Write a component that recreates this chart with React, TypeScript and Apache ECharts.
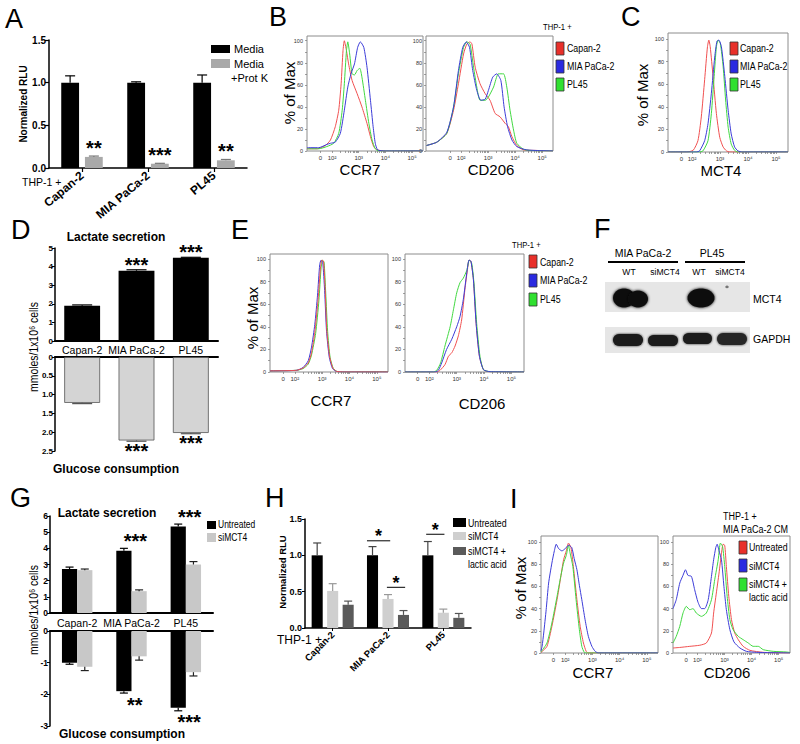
import React, { useEffect, useRef } from "react";
import * as echarts from "echarts";

const FONT = "'Liberation Sans', Arial, Helvetica, sans-serif";
const NARROW = "'Liberation Sans Narrow', 'Arial Narrow', 'Liberation Sans', sans-serif";

const RED = "#f05050";
const BLUE = "#3c3cd8";
const GREEN = "#40d840";
const LEG_RED = "#e8302a";
const LEG_BLUE = "#2a2ae0";
const LEG_GREEN = "#30e030";

type Pt = [number, number];

// ---------------- Panel A ----------------
const catsA = ["Capan-2", "MIA PaCa-2", "PL45"];
const mediaA = [1.0, 1.0, 1.0];
const mediaErrA = [1.08, 1.01, 1.09];
const protKA = [0.13, 0.05, 0.09];
const protKErrA = [0.14, 0.055, 0.1];
const protKStarsA = ["**", "***", "**"];

// ---------------- Panel D ----------------
const catsD = ["Capan-2", "MIA PaCa-2", "PL45"];
const lactateD = [1.9, 3.78, 4.47];
const lactateErrD = [1.94, 3.83, 4.5];
const lactateStarsD = ["", "***", "***"];
const glucoseD = [1.22, 2.22, 2.02];
const glucoseErrD = [1.24, 2.24, 2.04];
const glucoseStarsD = ["", "***", "***"];

// ---------------- Panel G ----------------
const catsG = ["Capan-2", "MIA PaCa-2", "PL45"];
const lactUntrG = [2.72, 3.85, 5.35];
const lactUntrErrG = [2.84, 4.0, 5.5];
const lactSiG = [2.65, 1.35, 3.0];
const lactSiErrG = [2.72, 1.43, 3.18];
const lactStarsG = ["", "***", "***"];
const glucUntrG = [-1.0, -1.9, -2.42];
const glucUntrErrG = [-1.05, -1.96, -2.52];
const glucSiG = [-1.13, -0.8, -1.3];
const glucSiErrG = [-1.25, -0.92, -1.42];
const glucStarsG = ["", "**", "***"];

// ---------------- Panel H ----------------
const catsH = ["Capan-2", "MIA PaCa-2", "PL45"];
const untrH = [1.0, 1.0, 1.0];
const untrErrH = [1.17, 1.12, 1.19];
const siH = [0.51, 0.4, 0.21];
const siErrH = [0.61, 0.46, 0.26];
const siLacH = [0.32, 0.18, 0.14];
const siLacErrH = [0.37, 0.24, 0.2];
const sigCatH = [1, 1, 2];
const sigLevelH = [1.2, 0.56, 1.29];
const sigStarsH = ["*", "*", "*"];

// ---------------- Flow axes ----------------
const flowDecades = [2, 3, 4, 5];
const flowDecadeLabels = ["10²", "10³", "10⁴", "10⁵"];
const flowYTicks = [0, 20, 40, 60, 80, 100];
const flowYMinorTicks = [0, 10, 20, 30, 40, 50, 60, 70, 80, 90, 100];

// B: CCR7
const bCcr7Capan: Pt[] = [[1.06,2],[1.44,2],[1.75,5],[1.94,10],[2.12,22],[2.25,37],[2.34,61],[2.41,91],[2.46,100],[2.54,91],[2.62,79],[2.75,64],[2.94,52],[3.12,40],[3.31,25],[3.44,13],[3.56,4],[3.69,1],[4.0,0],[5.41,0]];
const bCcr7Mia: Pt[] = [[1.06,3],[1.5,3],[1.81,6],[1.94,7],[2.12,8],[2.31,16],[2.46,37],[2.59,58],[2.71,70],[2.84,79],[2.96,94],[3.06,99],[3.19,94],[3.31,76],[3.44,46],[3.54,22],[3.62,7],[3.71,1],[4.0,0],[5.41,0]];
const bCcr7Pl45: Pt[] = [[1.06,2],[1.5,2],[1.8,4],[2.06,7],[2.25,16],[2.38,37],[2.46,61],[2.54,91],[2.59,99],[2.66,88],[2.75,70],[2.84,69],[2.94,73],[3.04,75],[3.12,67],[3.25,46],[3.38,25],[3.5,10],[3.62,2],[3.75,0],[5.41,0]];
// B: CD206
const bCd206Capan: Pt[] = [[0.72,5],[1.1,8],[1.47,16],[1.72,37],[1.9,61],[2.09,88],[2.21,97],[2.33,99],[2.4,97],[2.52,76],[2.7,61],[2.89,52],[3.07,46],[3.26,34],[3.44,31],[3.63,25],[3.75,22],[3.88,13],[4.06,5],[4.31,1],[4.8,0.5],[5.4,0]];
const bCd206Mia: Pt[] = [[0.72,5],[1.1,8],[1.47,17],[1.72,40],[1.9,73],[2.06,94],[2.19,99],[2.31,94],[2.43,73],[2.58,55],[2.73,46],[2.89,47],[3.01,55],[3.17,67],[3.32,70],[3.47,64],[3.59,40],[3.72,22],[3.88,10],[4.06,4],[4.43,1],[5.4,0]];
const bCd206Pl45: Pt[] = [[0.72,5],[1.1,8],[1.47,16],[1.72,40],[1.9,70],[2.09,94],[2.21,99],[2.33,97],[2.46,76],[2.58,58],[2.7,46],[2.89,46],[3.01,49],[3.2,58],[3.38,70],[3.57,70],[3.69,58],[3.81,37],[3.94,19],[4.06,7],[4.31,1.5],[4.56,0.5],[5.4,0]];
// C: MCT4
const cMct4Capan: Pt[] = [[1.14,0],[1.8,0],[2.04,1.5],[2.21,10],[2.33,31],[2.45,64],[2.55,93],[2.6,99],[2.65,93],[2.75,67],[2.87,34],[2.99,13],[3.11,4.5],[3.23,1],[3.35,0],[5.43,0]];
const cMct4Mia: Pt[] = [[1.14,0],[2.15,0],[2.27,1],[2.45,10],[2.57,25],[2.69,52],[2.81,84],[2.89,98],[2.96,99],[3.05,93],[3.17,67],[3.29,37],[3.4,16],[3.52,4.5],[3.64,1],[3.8,0],[5.43,0]];
const cMct4Pl45: Pt[] = [[1.14,0],[2.25,0],[2.39,1],[2.57,10],[2.69,34],[2.79,67],[2.87,93],[2.93,99],[3.01,96],[3.11,76],[3.2,46],[3.29,22],[3.4,7],[3.52,1.5],[3.64,0],[5.43,0]];
// E: CCR7
const eCcr7Capan: Pt[] = [[1.09,1],[2.06,1.5],[2.3,3.5],[2.49,8],[2.61,17],[2.73,35],[2.85,64],[2.94,93],[2.99,99],[3.05,98],[3.11,73],[3.17,37],[3.27,14],[3.39,3.5],[3.52,0.6],[3.8,0],[5.41,0]];
const eCcr7Mia: Pt[] = [[1.09,1],[2.06,1.5],[2.3,4],[2.49,10],[2.61,22],[2.73,42],[2.83,68],[2.91,95],[2.96,99],[3.02,97],[3.09,72],[3.16,36],[3.26,13],[3.38,3],[3.52,0.5],[3.8,0],[5.41,0]];
const eCcr7Pl45: Pt[] = [[1.09,1],[2.06,1.5],[2.3,3],[2.49,7],[2.61,15],[2.76,34],[2.88,63],[2.96,92],[3.01,99],[3.07,97],[3.13,70],[3.2,36],[3.29,13],[3.41,3],[3.55,0.5],[3.8,0],[5.41,0.3]];
// E: CD206
const eCd206Capan: Pt[] = [[1.11,0],[2.27,0],[2.39,1.5],[2.57,6.5],[2.7,14],[2.82,17],[2.94,23],[3.06,32],[3.18,46],[3.3,73],[3.39,90],[3.45,99],[3.52,98],[3.61,82],[3.71,43],[3.83,14],[3.98,2],[4.16,0.3],[5.46,0]];
const eCd206Mia: Pt[] = [[1.11,0],[2.21,0],[2.33,1.5],[2.45,8],[2.63,20],[2.82,29],[3.0,40],[3.12,49],[3.24,64],[3.37,88],[3.45,99],[3.52,98],[3.61,82],[3.71,43],[3.83,14],[3.98,2],[4.22,0.3],[5.46,0]];
const eCd206Pl45: Pt[] = [[1.11,0],[2.15,0],[2.27,1.5],[2.41,8],[2.57,23],[2.76,40],[2.88,55],[3.0,70],[3.12,79],[3.24,83],[3.37,90],[3.46,99],[3.55,96],[3.63,79],[3.73,43],[3.85,14],[3.98,2],[4.22,0.3],[5.46,0]];
// I: CCR7
const iCcr7Untr: Pt[] = [[1.11,0.5],[1.33,6],[1.51,24],[1.7,48],[1.82,66],[1.94,84],[2.04,92],[2.12,99],[2.21,95],[2.3,78],[2.43,48],[2.55,24],[2.67,9],[2.77,1.5],[2.85,0],[5.41,0]];
const iCcr7Si: Pt[] = [[1.11,2],[1.15,6],[1.21,18],[1.3,39],[1.39,63],[1.51,81],[1.6,92],[1.67,98],[1.76,94],[1.88,92],[2.0,94],[2.12,97],[2.24,95],[2.33,85],[2.43,75],[2.52,61],[2.61,48],[2.73,30],[2.85,15],[2.98,6],[3.1,1.5],[3.22,0],[5.41,0]];
const iCcr7SiLac: Pt[] = [[1.11,1],[1.33,9],[1.51,27],[1.7,51],[1.82,67],[1.94,81],[2.04,88],[2.12,97],[2.18,90],[2.28,78],[2.4,48],[2.52,21],[2.61,6],[2.7,0.6],[2.8,0],[5.41,0]];
// I: CD206
const iCd206Untr: Pt[] = [[1.1,4.5],[1.35,5],[1.72,6],[2.09,7],[2.33,9],[2.52,18],[2.6,36],[2.7,54],[2.8,72],[2.89,90],[2.95,98],[3.01,97],[3.07,78],[3.16,51],[3.26,30],[3.38,18],[3.51,12],[3.69,6],[3.94,2.4],[4.43,0.6],[5.42,0]];
const iCd206Si: Pt[] = [[1.1,40],[1.22,48],[1.35,63],[1.47,70],[1.56,75],[1.65,70],[1.78,69],[1.9,57],[2.02,46],[2.15,40],[2.27,40],[2.4,48],[2.52,69],[2.6,84],[2.68,95],[2.73,98],[2.8,92],[2.89,84],[2.98,60],[3.07,39],[3.2,21],[3.35,10],[3.57,4.5],[3.81,1.5],[4.19,0.6],[5.42,0]];
const iCd206SiLac: Pt[] = [[1.1,9],[1.22,15],[1.35,24],[1.47,36],[1.59,42],[1.72,39],[1.84,40],[1.96,36],[2.15,33],[2.33,36],[2.52,48],[2.64,66],[2.77,84],[2.85,99],[2.93,96],[3.01,78],[3.1,51],[3.2,30],[3.32,21],[3.51,15],[3.69,12],[3.88,9],[4.06,6],[4.25,6],[4.43,3],[4.8,1.5],[5.3,0.9],[5.42,0.5]];

// layout-only constants for significance brackets in H (fractions of band)
const sigSpanH: [number, number][] = [[-0.38, 0.04], [-0.02, 0.31], [-0.31, 0.02]];

function T(text: string, x: number, y: number, o: any = {}) {
  const align = o.align || "left";
  const style: any = {
    text, fill: o.color || "#000", fontSize: o.fs || 11, fontWeight: o.fw || "normal",
    fontFamily: o.ff || FONT, align, verticalAlign: "middle", textAlign: align, textVerticalAlign: "middle",
  };
  if (o.lh) style.lineHeight = o.lh;
  return { type: "text", x, y, rotation: o.rot || 0, scaleX: o.sx || 1, silent: true, z: 10, style };
}
function R(x: number, y: number, w: number, h: number, fill: string, stroke?: string, r = 0, extra: any = {}) {
  return { type: "rect", silent: true, z: 10, shape: { x, y, width: w, height: h, r }, style: { fill, stroke: stroke || null, lineWidth: stroke ? 0.8 : 0, ...extra } };
}
function L(x1: number, y1: number, x2: number, y2: number, w = 1, c = "#000") {
  return { type: "line", silent: true, z: 10, shape: { x1, y1, x2, y2 }, style: { stroke: c, lineWidth: w } };
}
function E(cx: number, cy: number, rx: number, ry: number, fill: string, blur = 0) {
  return { type: "ellipse", silent: true, z: 11, shape: { cx, cy, rx, ry }, style: { fill, shadowBlur: blur, shadowColor: fill } };
}

function buildOption(): any {
  const grid: any[] = [];
  const xAxis: any[] = [];
  const yAxis: any[] = [];
  const series: any[] = [];
  const add = (g: any, x: any, y: any) => {
    const i = grid.length;
    grid.push(g);
    xAxis.push({ ...x, gridIndex: i });
    yAxis.push({ ...y, gridIndex: i });
    return i;
  };

  // log-decade minor tick positions (2..9 x 10^n) for the flow axes
  const minorLog: number[] = [];
  [2, 3, 4].forEach((n) => { for (let k = 2; k <= 9; k++) minorLog.push(n + Math.log10(k)); });

  const flowX = (min: number, max: number, zero: number) => {
    const vals = [zero, ...flowDecades];
    return {
      type: "value", min, max,
      axisLine: { show: false }, splitLine: { show: false },
      axisTick: { show: true, customValues: [...vals, ...minorLog], length: 2, lineStyle: { color: "#777", width: 0.7 } },
      axisLabel: {
        show: true, customValues: vals, margin: 4, fontSize: 6, color: "#333", fontFamily: FONT,
        formatter: (v: number) => {
          if (Math.abs(v - zero) < 1e-6) return "0";
          const k = flowDecades.indexOf(Math.round(v));
          return k >= 0 ? flowDecadeLabels[k] : "";
        },
      },
    };
  };
  const flowY = (max: number) => ({
    type: "value", min: 0, max,
    axisLine: { show: false }, splitLine: { show: false },
    axisTick: { show: true, customValues: flowYMinorTicks, length: 2, lineStyle: { color: "#777", width: 0.7 } },
    axisLabel: { show: true, customValues: flowYTicks, margin: 4, fontSize: 5.5, color: "#333", fontFamily: FONT },
  });
  const flow = (left: number, top: number, width: number, height: number, xmin: number, xmax: number, zero: number, ymax: number, curves: [Pt[], string][]) => {
    const i = add({ left, top, width, height, show: true, borderColor: "#8c8c8c", borderWidth: 1, backgroundColor: "transparent" }, flowX(xmin, xmax, zero), flowY(ymax));
    curves.forEach(([d, c]) =>
      series.push({ type: "line", xAxisIndex: i, yAxisIndex: i, data: d, symbol: "none", smooth: 0.2, lineStyle: { color: c, width: 1 }, z: 3, silent: true })
    );
  };

  const err = (gi: number, base: number[], tops: number[], offset: number, color: string, cap: number, stars?: string[], starDy = 0, starOff = 0, starSize = 20) => ({
    type: "custom", xAxisIndex: gi, yAxisIndex: gi, z: 5, silent: true,
    data: base.map((b, k) => [k, b, tops[k]]),
    renderItem: (params: any, api: any) => {
      const k = api.value(0);
      const p0 = api.coord([k, api.value(1)]);
      const p1 = api.coord([k, api.value(2)]);
      const band = api.size([1, 0])[0];
      const x = p0[0] + offset * band;
      const children: any[] = [
        { type: "line", shape: { x1: x, y1: p0[1], x2: x, y2: p1[1] }, style: { stroke: color, lineWidth: 1.2 } },
        { type: "line", shape: { x1: x - cap, y1: p1[1], x2: x + cap, y2: p1[1] }, style: { stroke: color, lineWidth: 1.2 } },
      ];
      const s = stars ? stars[params.dataIndex] : "";
      if (s) {
        children.push({
          type: "text", x: p0[0] + starOff * band, y: p1[1] + starDy,
          style: { text: s, fill: "#000", fontSize: starSize, lineHeight: 9, fontWeight: "bold", fontFamily: FONT, align: "center", verticalAlign: "middle", textAlign: "center", textVerticalAlign: "middle" },
        });
      }
      return { type: "group", children };
    },
  });

  const blackLine = (w: number) => ({ show: true, lineStyle: { color: "#000", width: w } });

  // ---------- A ----------
  const gA = add(
    { left: 49, top: 40, width: 198, height: 128 },
    { type: "category", data: catsA, axisLine: blackLine(1.5), axisTick: { show: true, alignWithLabel: true, length: 4, lineStyle: { color: "#000", width: 1.2 } }, axisLabel: { interval: 0, rotate: 40, margin: 6, fontSize: 12, fontWeight: "bold", color: "#000", fontFamily: FONT } },
    { type: "value", min: 0, max: 1.5, interval: 0.5, axisLine: blackLine(1.5), axisTick: { show: true, length: 4, lineStyle: { color: "#000", width: 1.2 } }, splitLine: { show: false }, axisLabel: { formatter: (v: number) => v.toFixed(1), fontSize: 10, fontWeight: "bold", color: "#000", margin: 3, fontFamily: FONT } }
  );
  series.push({ type: "bar", xAxisIndex: gA, yAxisIndex: gA, data: mediaA, barWidth: "27%", barGap: "33%", itemStyle: { color: "#000" }, silent: true });
  series.push({ type: "bar", xAxisIndex: gA, yAxisIndex: gA, data: protKA, barWidth: "27%", barGap: "33%", itemStyle: { color: "#a9a9a9" }, silent: true });
  series.push(err(gA, mediaA, mediaErrA, -0.18, "#000", 5));
  series.push(err(gA, protKA, protKErrA, 0.18, "#777", 5, protKStarsA, -8.5, 0.18));

  // ---------- D ----------
  const gDu = add(
    { left: 55, top: 248, width: 163, height: 93 },
    { type: "category", data: catsD, axisLine: blackLine(2), axisTick: { show: false }, axisLabel: { interval: 0, margin: 3, fontSize: 10.5, color: "#000", fontFamily: NARROW } },
    { type: "value", min: 0, max: 5, interval: 1, axisLine: blackLine(1.5), axisTick: { show: true, length: 3, lineStyle: { color: "#000" } }, splitLine: { show: false }, axisLabel: { fontSize: 8, fontWeight: "bold", color: "#000", margin: 2, fontFamily: FONT } }
  );
  series.push({ type: "bar", xAxisIndex: gDu, yAxisIndex: gDu, data: lactateD, barWidth: "66%", itemStyle: { color: "#000" }, silent: true });
  series.push(err(gDu, lactateD, lactateErrD, 0, "#000", 10, lactateStarsD, -5.2, 0));

  const gDl = add(
    { left: 55, top: 357, width: 163, height: 94 },
    { type: "category", data: catsD, axisLine: blackLine(2), axisTick: { show: false }, axisLabel: { show: false } },
    { type: "value", inverse: true, min: 0, max: 2.5, interval: 0.5, axisLine: blackLine(1.5), axisTick: { show: true, length: 3, lineStyle: { color: "#000" } }, splitLine: { show: false }, axisLabel: { formatter: (v: number) => (v === 0 ? "0" : v.toFixed(1)), fontSize: 8, fontWeight: "bold", color: "#000", margin: 2, fontFamily: FONT } }
  );
  series.push({ type: "bar", xAxisIndex: gDl, yAxisIndex: gDl, data: glucoseD, barWidth: "66%", itemStyle: { color: "#d4d4d4", borderColor: "#555", borderWidth: 0.8 }, silent: true });
  series.push(err(gDl, glucoseD, glucoseErrD, 0, "#555", 10, glucoseStarsD, 9.5, 0));

  // ---------- G ----------
  const gGu = add(
    { left: 50, top: 516, width: 163, height: 97 },
    { type: "category", data: catsG, axisLine: blackLine(2), axisTick: { show: false }, axisLabel: { interval: 0, margin: 4, fontSize: 10.5, color: "#000", fontFamily: NARROW } },
    { type: "value", min: 0, max: 6, interval: 1, axisLine: blackLine(1.5), axisTick: { show: true, length: 3, lineStyle: { color: "#000" } }, splitLine: { show: false }, axisLabel: { fontSize: 8.5, fontWeight: "bold", color: "#000", margin: 2, fontFamily: FONT } }
  );
  series.push({ type: "bar", xAxisIndex: gGu, yAxisIndex: gGu, data: lactUntrG, barWidth: "28%", barGap: "0%", itemStyle: { color: "#000" }, silent: true });
  series.push({ type: "bar", xAxisIndex: gGu, yAxisIndex: gGu, data: lactSiG, barWidth: "28%", barGap: "0%", itemStyle: { color: "#c8c8c8" }, silent: true });
  series.push(err(gGu, lactUntrG, lactUntrErrG, -0.14, "#000", 4, lactStarsG, -7.2, 0.07));
  series.push(err(gGu, lactSiG, lactSiErrG, 0.14, "#222", 4));

  const gGl = add(
    { left: 50, top: 631, width: 163, height: 95 },
    { type: "category", data: catsG, axisLine: blackLine(2), axisTick: { show: false }, axisLabel: { show: false } },
    { type: "value", min: -3, max: 0, interval: 1, axisLine: blackLine(1.5), axisTick: { show: true, length: 3, lineStyle: { color: "#000" } }, splitLine: { show: false }, axisLabel: { fontSize: 8.5, fontWeight: "bold", color: "#000", margin: 2, fontFamily: FONT } }
  );
  series.push({ type: "bar", xAxisIndex: gGl, yAxisIndex: gGl, data: glucUntrG, barWidth: "28%", barGap: "0%", itemStyle: { color: "#000" }, silent: true });
  series.push({ type: "bar", xAxisIndex: gGl, yAxisIndex: gGl, data: glucSiG, barWidth: "28%", barGap: "0%", itemStyle: { color: "#c8c8c8" }, silent: true });
  series.push(err(gGl, glucUntrG, glucUntrErrG, -0.14, "#000", 4, glucStarsG, 11.5, 0.06));
  series.push(err(gGl, glucSiG, glucSiErrG, 0.14, "#222", 4));

  // ---------- H ----------
  const gH = add(
    { left: 305, top: 519, width: 166, height: 109 },
    { type: "category", data: catsH, axisLine: blackLine(1.5), axisTick: { show: true, alignWithLabel: true, length: 3, lineStyle: { color: "#000", width: 1 } }, axisLabel: { interval: 0, rotate: 45, margin: 5, fontSize: 9.5, fontWeight: "bold", color: "#000", fontFamily: FONT } },
    { type: "value", min: 0, max: 1.5, interval: 0.5, axisLine: blackLine(1.5), axisTick: { show: true, length: 3, lineStyle: { color: "#000", width: 1 } }, splitLine: { show: false }, axisLabel: { formatter: (v: number) => v.toFixed(1), fontSize: 9, fontWeight: "bold", color: "#000", margin: 3, fontFamily: FONT } }
  );
  series.push({ type: "bar", xAxisIndex: gH, yAxisIndex: gH, data: untrH, barWidth: "20%", barGap: "40%", itemStyle: { color: "#000" }, silent: true });
  series.push({ type: "bar", xAxisIndex: gH, yAxisIndex: gH, data: siH, barWidth: "20%", barGap: "40%", itemStyle: { color: "#cfcfcf" }, silent: true });
  series.push({ type: "bar", xAxisIndex: gH, yAxisIndex: gH, data: siLacH, barWidth: "20%", barGap: "40%", itemStyle: { color: "#5a5a5a" }, silent: true });
  series.push(err(gH, untrH, untrErrH, -0.28, "#444", 4));
  series.push(err(gH, siH, siErrH, 0, "#999", 4));
  series.push(err(gH, siLacH, siLacErrH, 0.28, "#555", 4));
  series.push({
    type: "custom", xAxisIndex: gH, yAxisIndex: gH, z: 6, silent: true,
    data: sigCatH.map((c, k) => [c, sigLevelH[k]]),
    renderItem: (params: any, api: any) => {
      const k = params.dataIndex;
      const p = api.coord([api.value(0), api.value(1)]);
      const band = api.size([1, 0])[0];
      const [a, b] = sigSpanH[k];
      const x1 = p[0] + a * band;
      const x2 = p[0] + b * band;
      return {
        type: "group",
        children: [
          { type: "line", shape: { x1, y1: p[1], x2, y2: p[1] }, style: { stroke: "#000", lineWidth: 1 } },
          { type: "text", x: (x1 + x2) / 2, y: p[1] - 9 + 4.3, style: { text: sigStarsH[k], fontSize: 18, lineHeight: 8, fontWeight: "bold", fontFamily: FONT, fill: "#000", align: "center", verticalAlign: "middle", textAlign: "center", textVerticalAlign: "middle" } },
        ],
      };
    },
  });

  // ---------- Flow panels ----------
  flow(307, 36, 116, 115, 1.06, 5.41, 1.56, 104.3, [[bCcr7Capan, RED], [bCcr7Pl45, GREEN], [bCcr7Mia, BLUE]]);
  flow(426, 36, 127, 115, 0.7, 5.4, 1.59, 104.3, [[bCd206Capan, RED], [bCd206Pl45, GREEN], [bCd206Mia, BLUE]]);
  flow(668, 33, 120, 119, 1.14, 5.43, 1.62, 105.3, [[cMct4Capan, RED], [cMct4Pl45, GREEN], [cMct4Mia, BLUE]]);
  flow(270, 254, 118, 118, 1.09, 5.41, 1.57, 104.4, [[eCcr7Pl45, GREEN], [eCcr7Mia, BLUE], [eCcr7Capan, RED]]);
  flow(405, 254, 119, 118, 1.11, 5.46, 1.57, 104.4, [[eCd206Capan, RED], [eCd206Pl45, GREEN], [eCd206Mia, BLUE]]);
  flow(541, 536, 117, 117, 1.11, 5.41, 1.57, 105.4, [[iCcr7Untr, RED], [iCcr7SiLac, GREEN], [iCcr7Si, BLUE]]);
  flow(673, 536, 117, 117, 1.1, 5.42, 1.59, 105.4, [[iCd206Untr, RED], [iCd206SiLac, GREEN], [iCd206Si, BLUE]]);

  // ---------- Graphic texts / legends / blot ----------
  const rot = Math.PI / 2;
  const legendSq = (x: number, ys: number[]) => [
    R(x, ys[0], 8, 13, LEG_RED, "#333"),
    R(x, ys[1], 8, 13, LEG_BLUE, "#333"),
    R(x, ys[2], 8, 13, LEG_GREEN, "#333"),
  ];
  const nar = { fs: 11, sx: 0.8 };
  const ttl = { fs: 15, align: "center", lh: 12 };
  const elements: any[] = [
    // letters
    T("A", 5, 19, { fs: 27 }), T("B", 269, 17, { fs: 27 }), T("C", 621, 17, { fs: 27 }),
    T("D", 11, 230, { fs: 27 }), T("E", 231, 230, { fs: 27 }), T("F", 594, 229, { fs: 27 }),
    T("G", 10, 498, { fs: 27 }), T("H", 265, 498, { fs: 27 }), T("I", 510, 499, { fs: 27 }),

    // A
    T("Normalized RLU", 23, 104, { fs: 10, fw: "bold", rot, align: "center" }),
    T("THP-1 +", 22, 182, { fs: 10.5 }),
    R(211, 45, 19, 8, "#000"), R(211, 59, 19, 9, "#a9a9a9"),
    T("Media", 234, 49, { fs: 11 }), T("Media", 234, 64, { fs: 11 }), T("+Prot K", 231, 78, { fs: 11 }),

    // B
    T("% of Max", 289, 93, { fs: 15, rot, align: "center" }),
    T("CCR7", 360, 169, ttl),
    T("CD206", 491, 169, ttl),
    T("THP-1 +", 543, 27, { fs: 9, sx: 0.85 }),
    ...legendSq(556, [42, 60, 78]),
    T("Capan-2", 567, 48, nar), T("MIA PaCa-2", 567, 66, nar), T("PL45", 567, 84, nar),

    // C
    T("% of Max", 642, 95, { fs: 15, rot, align: "center" }),
    T("MCT4", 721, 170, ttl),
    ...legendSq(730, [42, 60, 78]),
    T("Capan-2", 740, 48, nar), T("MIA PaCa-2", 740, 66, nar), T("PL45", 740, 84, nar),

    // D
    T("Lactate secretion", 116, 237, { fs: 12, fw: "bold", align: "center" }),
    T("Glucose consumption", 116, 469, { fs: 12, fw: "bold", align: "center", lh: 10 }),
    T("mmoles/1x10⁶ cells", 33, 347, { fs: 13, sx: 0.8, rot, align: "center" }),

    // E
    T("% of Max", 252, 318, { fs: 15, rot, align: "center" }),
    T("CCR7", 331, 400, ttl),
    T("CD206", 482, 403, ttl),
    T("THP-1 +", 512, 245, { fs: 9, sx: 0.85 }),
    ...legendSq(529, [255, 274, 293]),
    T("Capan-2", 540, 262, nar), T("MIA PaCa-2", 540, 280, nar), T("PL45", 540, 299, nar),

    // F (western blot)
    T("MIA PaCa-2", 643, 253, { fs: 10.5, align: "center" }),
    L(608, 262, 678, 262, 2.2),
    T("PL45", 712, 253, { fs: 10.5, align: "center" }),
    L(685, 262, 745, 262, 2.2),
    T("WT", 629, 272, { fs: 9.5, align: "center", sx: 0.9 }),
    T("siMCT4", 665, 272, { fs: 9.5, align: "center", sx: 0.9 }),
    T("WT", 699, 272, { fs: 9.5, align: "center", sx: 0.9 }),
    T("siMCT4", 730, 272, { fs: 9.5, align: "center", sx: 0.9 }),
    R(605, 282, 145, 30, "#e6e6e6"),
    E(624, 298, 11, 9.5, "#111", 3), E(638, 299, 10, 8.5, "#111", 3),
    E(701, 298, 13.5, 9.5, "#111", 3),
    E(727, 287, 1.5, 1.2, "#777", 1),
    T("MCT4", 753, 299, { fs: 10.5 }),
    R(605, 327, 145, 26, "#e6e6e6"),
    R(613, 334, 30, 12, "#1a1a1a", undefined, 6, { shadowBlur: 2, shadowColor: "#1a1a1a" }),
    R(648, 335, 30, 11, "#1a1a1a", undefined, 5.5, { shadowBlur: 2, shadowColor: "#1a1a1a" }),
    R(683, 333, 29, 11, "#1a1a1a", undefined, 5.5, { shadowBlur: 2, shadowColor: "#1a1a1a" }),
    R(717, 333, 30, 12, "#262626", undefined, 6, { shadowBlur: 2, shadowColor: "#262626" }),
    T("GAPDH", 753, 339, { fs: 10.5 }),

    // G
    T("Lactate secretion", 107, 513, { fs: 12, fw: "bold", align: "center" }),
    T("Glucose consumption", 122, 734, { fs: 12, fw: "bold", align: "center", lh: 10 }),
    T("mmoles/1x10⁶ cells", 33, 610, { fs: 13, sx: 0.8, rot, align: "center" }),
    R(207, 521, 9, 8, "#000"), R(207, 533, 9, 9, "#c8c8c8"),
    T("Untreated", 218, 525, { fs: 10, sx: 0.85 }), T("siMCT4", 218, 538, { fs: 10, sx: 0.85 }),

    // H
    T("Normalized RLU", 282, 572, { fs: 9.5, fw: "bold", rot, align: "center" }),
    T("THP-1 +", 277, 640, { fs: 12 }),
    R(453, 518, 13, 9, "#000"), R(453, 532, 13, 8, "#cfcfcf"), R(453, 547, 13, 8, "#5a5a5a"),
    T("Untreated", 468, 523, nar), T("siMCT4", 468, 536, nar), T("siMCT4 +", 468, 551, nar), T("lactic acid", 468, 564, nar),

    // I
    T("% of Max", 520, 588, { fs: 15, rot, align: "center" }),
    T("CCR7", 593, 672, ttl),
    T("CD206", 727, 672, ttl),
    T("THP-1 +", 723, 516, { fs: 11, sx: 0.82 }),
    T("MIA PaCa-2 CM", 723, 529, { fs: 11, sx: 0.82 }),
    ...legendSq(739, [541, 559, 578]),
    T("Untreated", 749, 547, nar), T("siMCT4", 749, 566, nar), T("siMCT4 +", 749, 584, nar), T("lactic acid", 749, 597, nar),
  ];

  return {
    animation: false,
    backgroundColor: "#fff",
    textStyle: { fontFamily: FONT },
    grid, xAxis, yAxis, series,
    graphic: { elements },
  };
}

export default function App() {
  const ref = useRef<HTMLDivElement>(null);
  useEffect(() => {
    document.body.style.margin = "0";
    const chart = echarts.init(ref.current!, undefined, { renderer: "svg", width: 800, height: 744 });
    chart.setOption(buildOption());
    return () => chart.dispose();
  }, []);
  return <div ref={ref} style={{ width: 800, height: 744, position: "absolute", left: 0, top: 0, background: "#fff" }} />;
}
